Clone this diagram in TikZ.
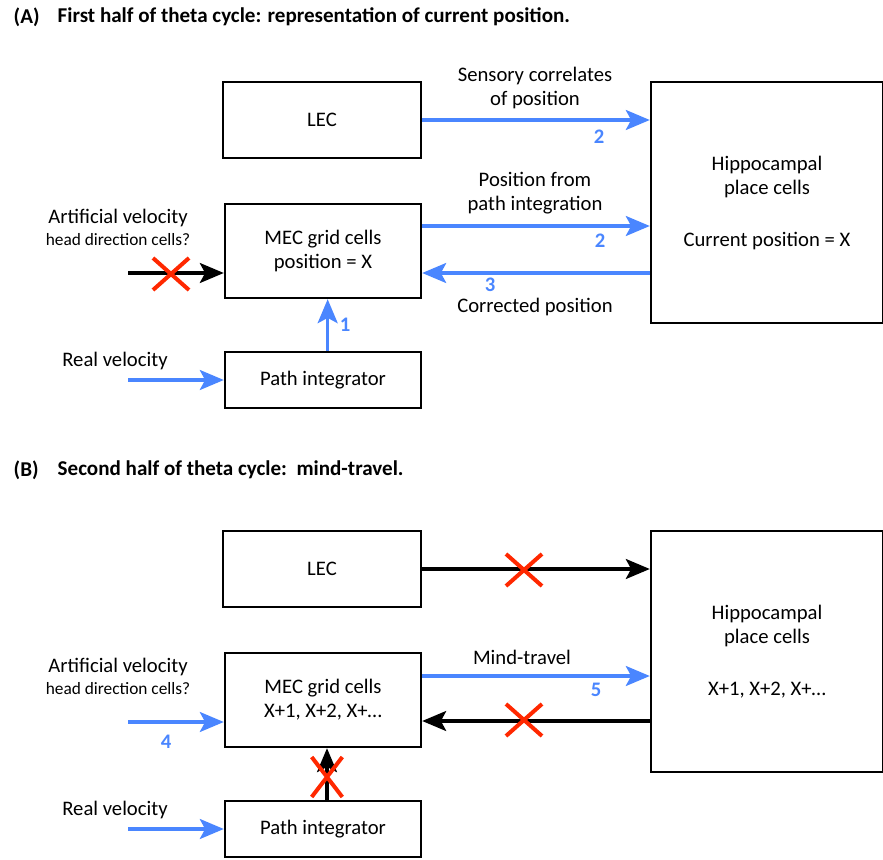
\documentclass[tikz,border=0pt]{standalone}
\usepackage{fontspec}
\setmainfont{Carlito}
\usetikzlibrary{arrows.meta,shapes.misc}
\definecolor{arrowblue}{RGB}{74,134,255}
\definecolor{crossred}{RGB}{255,40,0}
\tikzset{
  box/.style={draw,line width=1.8pt,align=center,font=\fontsize{15.5}{18}\selectfont},
  lbl/.style={align=center,font=\fontsize{15.5}{18}\selectfont},
  small/.style={font=\fontsize{13}{15}\selectfont},
  num/.style={text=arrowblue,inner sep=1pt,font=\fontsize{15.5}{16}\selectfont\bfseries},
  title/.style={anchor=west,font=\fontsize{15.8}{17}\selectfont\bfseries},
  bluearrow/.style={draw=arrowblue,line width=2.3pt,-{Stealth[length=18pt,width=15pt,inset=4pt]}},
  blackarrow/.style={draw=black,line width=2.3pt,-{Stealth[length=18pt,width=15pt,inset=4pt]}},
  blocked/.style={cross out,draw=crossred,line width=3pt,minimum width=24pt,minimum height=21pt,inner sep=0pt}
}
\begin{document}
\begin{tikzpicture}[x=0.75pt,y=-0.75pt]
\useasboundingbox (0,0) rectangle (883,860);

\node[title] (tA) at (9,17) {(A)};
\node[title] (tA2) at (53,17) {First half of theta cycle: representation of current position.};

\node[box,minimum width=148.5pt,minimum height=57pt] (LA) at (322,120) {LEC};
\node[box,minimum width=147pt,minimum height=70.5pt] (MA) at (323,251) {MEC grid cells\\position = X};
\node[box,minimum width=147pt,minimum height=42pt] (PA) at (323,380) {Path integrator};
\node[box,minimum width=174pt,minimum height=180.75pt] (HA) at (767,202.5) {Hippocampal\\place cells\\[21pt]Current position = X};

\node[lbl] (sensA) at (535,88) {Sensory correlates\\of position};
\node[lbl] (pathA) at (535,193) {Position from\\path integration};
\node[lbl] (corrA) at (535,307) {Corrected position};
\node[lbl] (avA) at (118,218) {Artificial velocity};
\node[small] (hdA) at (118,240) {head direction cells?};
\node[lbl] (rvA) at (115,361) {Real velocity};

\coordinate (AVa) at (128,273);
\coordinate (RVa) at (128,380);

\draw[bluearrow] (LA.east) -- (LA.east -| HA.west);
\draw[bluearrow] ([yshift=18.75pt]MA.east) -- ([yshift=18.75pt]MA.east -| HA.west);
\draw[bluearrow] ([yshift=-16.5pt]MA.east -| HA.west) -- ([yshift=-16.5pt]MA.east);
\draw[bluearrow] ([xshift=3.5pt]PA.north) -- ([xshift=3.5pt]MA.south);
\draw[blackarrow] (AVa) -- (AVa -| MA.west);
\draw[bluearrow] (RVa) -- (PA.west);

\node[blocked] (xA) at (171,274) {};
\node[num] (n2a) at (599,137) {2};
\node[num] (n2b) at (600,241) {2};
\node[num] (n3) at (490,285) {3};
\node[num] (n1) at (345,325) {1};

\node[title] (tB) at (9,470) {(B)};
\node[title] (tB2) at (53,470) {Second half of theta cycle:\ \ mind-travel.};

\node[box,minimum width=148.5pt,minimum height=57pt] (LB) at (322,569) {LEC};
\node[box,minimum width=147pt,minimum height=70.5pt] (MB) at (323,700) {MEC grid cells\\X+1, X+2, X+…};
\node[box,minimum width=147pt,minimum height=42pt] (PB) at (323,829) {Path integrator};
\node[box,minimum width=174pt,minimum height=180.75pt] (HB) at (767,651.5) {Hippocampal\\place cells\\[21pt]X+1, X+2, X+…};

\node[lbl] (mindB) at (522,657) {Mind-travel};
\node[lbl] (avB) at (118,667) {Artificial velocity};
\node[small] (hdB) at (118,689) {head direction cells?};
\node[lbl] (rvB) at (115,810) {Real velocity};

\coordinate (AVb) at (128,722);
\coordinate (RVb) at (128,829);

\draw[blackarrow] (LB.east) -- (LB.east -| HB.west);
\draw[bluearrow] ([yshift=18pt]MB.east) -- ([yshift=18pt]MB.east -| HB.west);
\draw[blackarrow] ([yshift=-15.75pt]MB.east -| HB.west) -- ([yshift=-15.75pt]MB.east);
\draw[blackarrow] ([xshift=3pt]PB.north) -- ([xshift=3pt]MB.south);
\draw[bluearrow] (AVb) -- (AVb -| MB.west);
\draw[bluearrow] (RVb) -- (PB.west);

\node[blocked] (xB1) at (524,570) {};
\node[blocked] (xB2) at (524,720) {};
\node[blocked,minimum width=20pt,minimum height=27pt] (xB3) at (327,777) {};
\node[num] (n5) at (596,690) {5};
\node[num] (n4) at (166,742) {4};
\end{tikzpicture}
\end{document}
